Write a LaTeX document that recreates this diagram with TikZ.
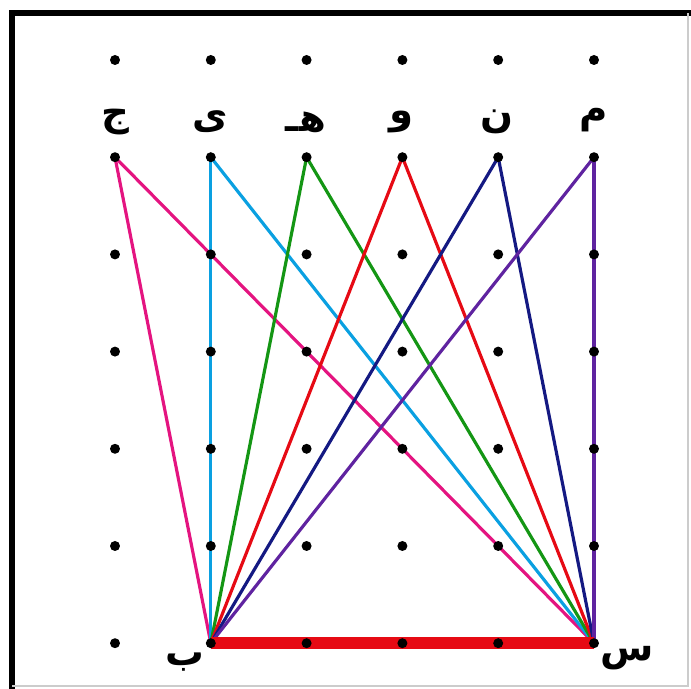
\documentclass[tikz,border=0pt]{standalone}
\usepackage{fontspec}
\usepackage{xcolor}
\usepackage{tikz}
\newfontfamily\arabicfont[Script=Arabic]{DejaVu Sans}
\TeXXeTstate=1
\definecolor{linkpink}{RGB}{228,20,128}
\definecolor{linkcyan}{RGB}{10,160,225}
\definecolor{linkgreen}{RGB}{20,150,20}
\definecolor{linkred}{RGB}{230,10,20}
\definecolor{linknavy}{RGB}{20,25,130}
\definecolor{linkpurple}{RGB}{95,35,160}

\begin{document}
\begin{tikzpicture}[
    x=0.02cm, y=-0.02cm,
    dot/.style={circle, fill=black, inner sep=0pt, minimum size=0.2cm},
    letter/.style={font=\arabicfont\bfseries\fontsize{22}{26}\selectfont, inner sep=0pt},
    link/.style={line width=1.8pt},
    base/.style={line width=6.5pt, color=linkred}
]
\useasboundingbox (0,0) rectangle (691,689);

% frame
\draw[line width=3.5pt] (12,689) -- (12,13) -- (691,13);
\draw[gray!40, line width=0.8pt] (688,13) -- (688,686) -- (12,686);

% grid points
\foreach \i in {1,...,6} {
  \foreach \j in {0,...,6} {
    \coordinate (p\i\j) at ({115+95.8*(\i-1)},{60+97.2*\j});
  }
}
\coordinate (b) at (p26);
\coordinate (s) at (p66);

% links from b and s
\foreach \i/\c in {1/linkpink,2/linkcyan,3/linkgreen,4/linkred,5/linknavy,6/linkpurple} {
  \draw[link, \c] (b) -- (p\i1);
  \draw[link, \c] (s) -- (p\i1);
}
\draw[base] (b) -- (s);

\foreach \i in {1,...,6} {
  \foreach \j in {0,...,6} {
    \node[dot] (d\i\j) at (p\i\j) {};
  }
}

% letters
\node[letter] (jim) at (115,122) {\beginR ج\endR};
\node[letter] (ye)  at (210,122) {\beginR ی\endR};
\node[letter] (he)  at (306,122) {\beginR هـ\endR};
\node[letter] (vav) at (402,122) {\beginR و\endR};
\node[letter] (nun) at (497,122) {\beginR ن\endR};
\node[letter] (mim) at (594,120) {\beginR م\endR};
\node[letter] (be)  at (185,662) {\beginR ب\endR};
\node[letter] (sin) at (627,658) {\beginR س\endR};
\end{tikzpicture}
\end{document}
